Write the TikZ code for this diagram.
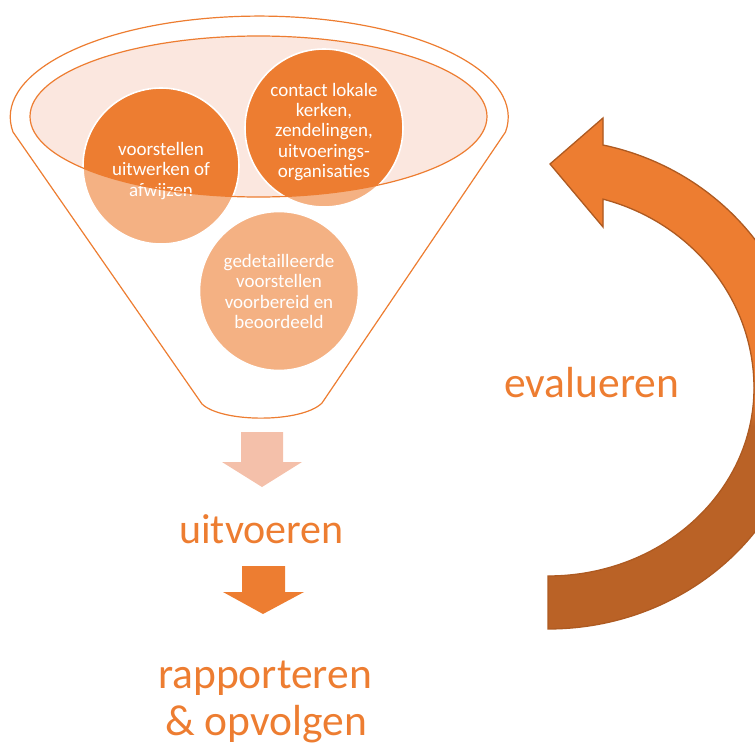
\documentclass[tikz,border=0pt]{standalone}
\usepackage{fontspec}
\setmainfont{Carlito}
\definecolor{orng}{HTML}{ED7D31}
\definecolor{darkor}{HTML}{BA6226}
\definecolor{edgeor}{HTML}{AE5A21}
\definecolor{paleor}{HTML}{F4C0AA}
\definecolor{ellfill}{HTML}{FBE7DF}
\tikzset{
  bubble/.style={circle, fill=orng, draw=white, line width=1.6pt, inner sep=0pt},
  bubbletext/.style={text=white, align=center, inner sep=0pt,
    font=\fontsize{19}{20.3}\selectfont},
  lbl/.style={text=orng, inner sep=0pt, font=\fontsize{43.5}{50}\selectfont},
  funnelline/.style={draw=orng, line width=1.2pt},
}
\begin{document}
\begin{tikzpicture}[x=1pt,y=-1pt]
\useasboundingbox (0,0) rectangle (755,747);
\clip (0,0) rectangle (755,747);
% mouth of the funnel
\fill[ellfill] (258.5,116.5) ellipse [x radius=228.5pt, y radius=80.5pt];
% circles
\node[bubble, minimum size=156pt] (c1) at (161,166) {};
\node[bubble, minimum size=158pt] (c2) at (324,128) {};
\node[bubble, minimum size=159pt] (c3) at (279,291) {};
\node[bubbletext] (t1) at ([yshift=-5pt]c1.center) {voorstellen\\uitwerken of\\afwijzen};
\node[bubbletext] (t2) at ([yshift=-4pt]c2.center) {contact lokale\\kerken,\\zendelingen,\\uitvoerings-\\organisaties};
\node[bubbletext] (t3) at ([yshift=-0.5pt]c3.center) {gedetailleerde\\voorstellen\\voorbereid en\\beoordeeld};
% translucent funnel body
\fill[white, fill opacity=0.4, even odd rule]
  (13,132) arc[start angle=188.5, end angle=-8.5, x radius=249pt, y radius=101pt]
  -- (322,403) .. controls (302,423) and (222,423) .. (202,404) -- cycle
  (258.5,116.5) ellipse [x radius=228.5pt, y radius=80.5pt];
% funnel outlines
\draw[funnelline]
  (13,132) arc[start angle=188.5, end angle=-8.5, x radius=249pt, y radius=101pt]
  -- (322,403) .. controls (302,423) and (222,423) .. (202,404) -- cycle;
\draw[funnelline] (258.5,116.5) ellipse [x radius=228.5pt, y radius=80.5pt];
% block arrows
\fill[paleor] (241,432) -- (283,432) -- (283,462) -- (302,462) -- (262,487) -- (222,462) -- (241,462) -- cycle;
\fill[orng] (242,566) -- (285,566) -- (285,592) -- (304,592) -- (263,614) -- (223,592) -- (242,592) -- cycle;
% labels
\node[lbl, anchor=base, font=\fontsize{42}{50}\selectfont] (uit) at (261.5,543) {uitvoeren};
\node[lbl, anchor=base] (rap1) at (265,688) {rapporteren};
\node[lbl, anchor=base] (rap2) at (266,735) {\&~opvolgen};
\node[lbl, anchor=base west] (eval) at (504,397) {evalueren};
% curved arrow
\def\evalarrow{(603,145) arc[start angle=77.69, end angle=0, x radius=258pt, y radius=248.7pt]
  arc[start angle=0, end angle=-90, x radius=258pt, y radius=241pt]
  -- (548,576)
  arc[start angle=-90, end angle=0, x radius=206pt, y radius=188pt]
  arc[start angle=0, end angle=74.5, x radius=206pt, y radius=196pt]
  -- (603,227) -- (550,164) -- (603,118) -- cycle}
\begin{scope}
  \clip \evalarrow;
  \fill[darkor] (540,100) rectangle (820,640);
  \fill[orng] (540,100) rectangle (820,398);
  \shade[top color=orng, bottom color=darkor] (540,397) rectangle (820,426);
\end{scope}
\draw[edgeor, line width=1.3pt, line join=miter] \evalarrow;
\end{tikzpicture}
\end{document}
